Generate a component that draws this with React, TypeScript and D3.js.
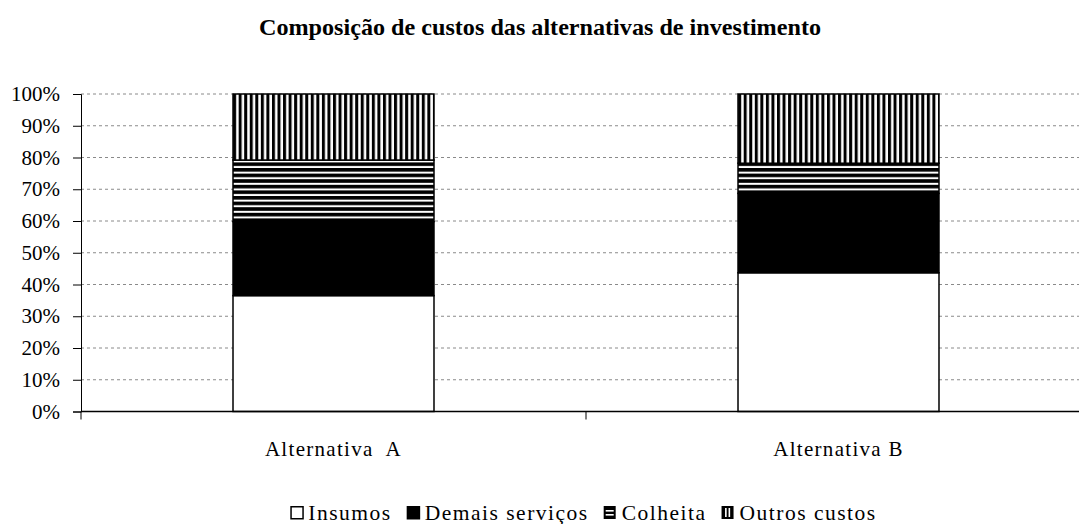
import React, { useEffect, useRef } from "react";
import * as d3 from "d3";

// chart values (percent of total cost)
const categories = ["Alternativa  A", "Alternativa B"];
const seriesNames = ["Insumos", "Demais serviços", "Colheita", "Outros custos"];
const insumos = [36.5, 43.7];
const demaisServicos = [23.3, 25.0];
const colheita = [19.4, 9.5];
const outrosCustos = [20.8, 21.8];
const yTicks = [0, 10, 20, 30, 40, 50, 60, 70, 80, 90, 100];

const W = 1079;
const H = 524;
const FONT = "Liberation Serif, Times New Roman, Tinos, serif";

export default function App() {
  const ref = useRef<SVGSVGElement>(null);

  useEffect(() => {
    const svg = d3.select(ref.current);
    svg.selectAll("*").remove();

    const margin = { left: 81, right: -12, top: 94, bottom: 112.5 };
    const x = d3.scaleBand().domain(categories).range([margin.left, W - margin.right]).paddingInner(0.602).paddingOuter(0.301);
    const y = d3.scaleLinear().domain([0, 100]).range([H - margin.bottom, margin.top]);

    // patterns
    const defs = svg.append("defs");
    const horiz = defs.append("pattern").attr("id", "horiz").attr("patternUnits", "userSpaceOnUse")
      .attr("width", 10).attr("height", 5.6);
    horiz.append("rect").attr("width", 10).attr("height", 5.6).attr("fill", "#fff");
    horiz.append("rect").attr("width", 10).attr("height", 3.6).attr("fill", "#000");
    const vert = defs.append("pattern").attr("id", "vert").attr("patternUnits", "userSpaceOnUse")
      .attr("width", 5.55).attr("height", 10);
    vert.append("rect").attr("width", 5.55).attr("height", 10).attr("fill", "#fff");
    vert.append("rect").attr("width", 3).attr("height", 10).attr("fill", "#000");
    const fills = ["#fff", "#000", "url(#horiz)", "url(#vert)"];

    svg.style("font-family", FONT);

    // title
    svg.append("text")
      .attr("x", 540).attr("y", 35)
      .attr("text-anchor", "middle")
      .style("font-weight", "bold").style("font-size", "22.5px")
      .attr("textLength", 562).attr("lengthAdjust", "spacingAndGlyphs")
      .text("Composição de custos das alternativas de investimento");

    // gridlines
    svg.append("g").selectAll("line").data(yTicks.filter(d => d > 0)).join("line")
      .attr("x1", margin.left).attr("x2", W)
      .attr("y1", d => y(d)).attr("y2", d => y(d))
      .attr("stroke", "#8a8a8a").attr("stroke-width", 1).attr("stroke-dasharray", "3,3");

    // stacked bars
    const table = categories.map((c, i) => ({
      cat: c, s0: insumos[i], s1: demaisServicos[i], s2: colheita[i], s3: outrosCustos[i],
    }));
    const stack = d3.stack<any>().keys(["s0", "s1", "s2", "s3"])(table);
    svg.append("g").selectAll("g").data(stack).join("g")
      .attr("fill", (_, i) => fills[i])
      .selectAll("rect").data(d => d).join("rect")
      .attr("x", d => x(d.data.cat)!)
      .attr("width", x.bandwidth())
      .attr("y", d => y(d[1]))
      .attr("height", d => y(d[0]) - y(d[1]))
      .attr("stroke", "#000").attr("stroke-width", 1.5);

    // y axis
    const yAxis = svg.append("g").attr("transform", `translate(${margin.left},0)`)
      .call(d3.axisLeft(y).tickValues(yTicks).tickSize(8).tickPadding(13).tickFormat(d => `${d}%`));
    yAxis.attr("font-family", null).attr("font-size", null);
    yAxis.select(".domain").attr("stroke", "#000");
    yAxis.selectAll(".tick line").attr("stroke", "#000");
    yAxis.selectAll(".tick text").style("font-size", "21px").attr("fill", "#000");

    // x axis
    const y0 = y(0);
    svg.append("line").attr("x1", margin.left).attr("x2", W).attr("y1", y0).attr("y2", y0)
      .attr("stroke", "#000").attr("stroke-width", 1.5);
    const bounds = [margin.left, (x(categories[0])! + x.bandwidth() + x(categories[1])!) / 2];
    svg.append("g").selectAll("line").data(bounds).join("line")
      .attr("x1", d => d).attr("x2", d => d).attr("y1", y0).attr("y2", y0 + 8)
      .attr("stroke", "#000");
    svg.append("g").selectAll("text").data(categories).join("text")
      .attr("x", d => x(d)! + x.bandwidth() / 2)
      .attr("y", 456)
      .attr("text-anchor", "middle")
      .style("font-size", "21px").style("letter-spacing", "1.3px")
      .style("white-space", "pre")
      .text(d => d);

    // legend
    const legend = svg.append("g");
    let cx = 0;
    const gap = 15;
    seriesNames.forEach((name, i) => {
      const item = legend.append("g").attr("transform", `translate(${cx},0)`);
      const box = item.append("g");
      if (i === 0) {
        box.append("rect").attr("x", 0.75).attr("y", 506.75).attr("width", 12).attr("height", 12)
          .attr("fill", "#fff").attr("stroke", "#000").attr("stroke-width", 1.5);
      } else if (i === 1) {
        box.append("rect").attr("x", 0).attr("y", 506).attr("width", 13.5).attr("height", 13.5).attr("fill", "#000");
      } else {
        box.append("rect").attr("x", 0).attr("y", 506).attr("width", 12).attr("height", 13).attr("fill", "#000");
        [0, 1].forEach(k => {
          if (i === 2) {
            box.append("rect").attr("x", 2).attr("y", 510 + k * 4).attr("width", 8).attr("height", 1.6).attr("fill", "#fff");
          } else {
            box.append("rect").attr("x", 3.5 + k * 3.5).attr("y", 508).attr("width", 1.6).attr("height", 9).attr("fill", "#fff");
          }
        });
      }
      const t = item.append("text").attr("x", 18).attr("y", 519.5)
        .style("font-size", "21.5px").style("letter-spacing", "1.5px")
        .text(name);
      const tw = (t.node() as SVGTextElement).getComputedTextLength();
      cx += 18 + tw + gap;
    });
    const total = cx - gap;
    legend.attr("transform", `translate(${583.5 - total / 2},0)`);
  }, []);

  return (
    <svg
      ref={ref}
      width={W}
      height={H}
      style={{ position: "absolute", left: 0, top: 0, background: "#fff" }}
    />
  );
}
